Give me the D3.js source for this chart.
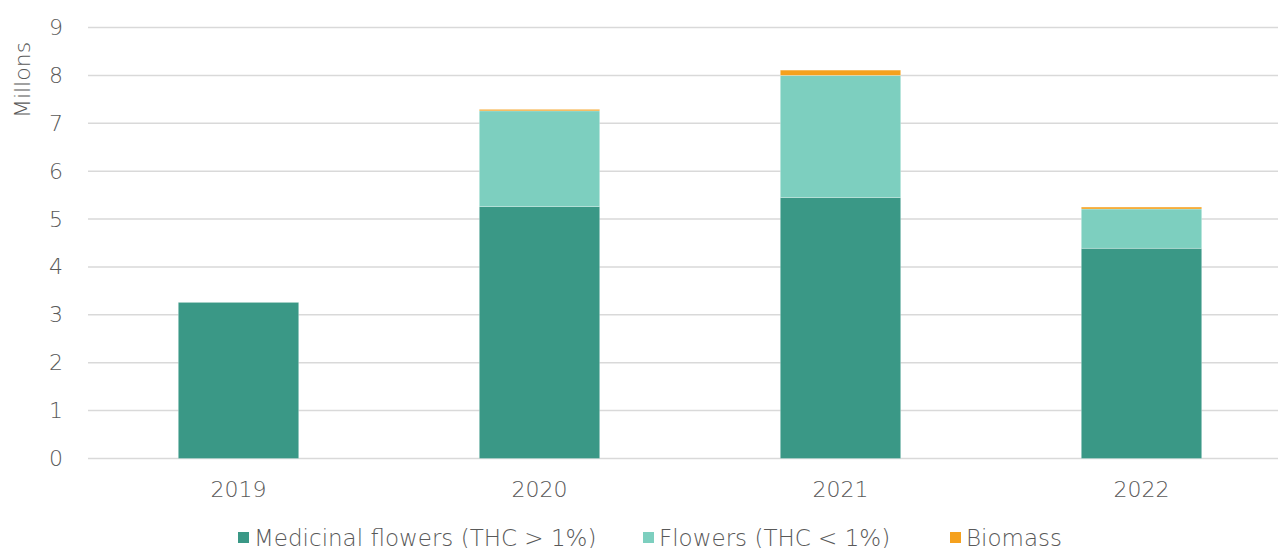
<!DOCTYPE html>
<html>
<head>
<meta charset="utf-8">
<script src="https://cdn.jsdelivr.net/npm/d3@7"></script>
<style>
  html, body { margin: 0; padding: 0; background: #fff; }
  svg { display: block; }
  text { font-family: "DejaVu Sans", "Noto Sans", sans-serif; font-weight: 200; fill: #595959; }
</style>
</head>
<body>
<svg id="chart" width="1278" height="548"></svg>
<script>
// Yearly volumes, in millions
const years = ["2019", "2020", "2021", "2022"];
const medicinal = [3.26, 5.26, 5.45, 4.39];
const flowers = [0, 2.00, 2.55, 0.82];
const biomass = [0, 0.03, 0.11, 0.04];
const seriesNames = ["Medicinal flowers (THC > 1%)", "Flowers (THC < 1%)", "Biomass"];
const seriesColors = ["#3a9886", "#7dcfbf", "#f5a11e"];
const yTicks = [0, 1, 2, 3, 4, 5, 6, 7, 8, 9];

const svg = d3.select("#chart");
const W = 1278;
const FS = 22;

const x = d3.scaleBand().domain(years).range([88, 1292]).paddingInner(0.6).paddingOuter(0.3);
const y = d3.scaleLinear().domain([0, 9]).range([458.5, 27.5]);

// Gridlines
svg.append("g").selectAll("line").data(yTicks).join("line")
  .attr("x1", 88).attr("x2", W)
  .attr("y1", d => y(d)).attr("y2", d => y(d))
  .attr("stroke", "#d9d9d9").attr("stroke-width", 1.5);

// Y axis labels
const yAxis = d3.axisLeft(y).tickValues(yTicks).tickSize(0).tickPadding(0).tickFormat(d3.format("d"));
const gy = svg.append("g").attr("transform", "translate(63,0)").call(yAxis);
gy.select(".domain").remove();
gy.selectAll("text").attr("font-size", FS).attr("fill", "#595959")
  .style("font-family", "'DejaVu Sans', sans-serif");

svg.append("text")
  .attr("transform", "translate(30,80) rotate(-90)")
  .attr("text-anchor", "middle")
  .attr("font-size", FS)
  .text("Millons");

// Stacked bars
const rows = years.map((yr, i) => ({ year: yr, s0: medicinal[i], s1: flowers[i], s2: biomass[i] }));
const stack = d3.stack().keys(["s0", "s1", "s2"]);
const layers = stack(rows);

svg.append("g").selectAll("g").data(layers).join("g")
  .attr("fill", (d, i) => seriesColors[i])
  .selectAll("rect").data(d => d.filter(p => p[1] - p[0] > 0)).join("rect")
  .attr("x", d => x(d.data.year))
  .attr("width", x.bandwidth())
  .attr("y", d => y(d[1]))
  .attr("height", d => y(d[0]) - y(d[1]))
  .attr("stroke", "#ffffff").attr("stroke-opacity", 0.35).attr("stroke-width", 0.75);

// X axis labels
const xAxis = d3.axisBottom(x).tickSize(0).tickPadding(0);
const gx = svg.append("g").attr("transform", "translate(0,497)").call(xAxis);
gx.select(".domain").remove();
gx.selectAll("text").attr("font-size", FS).attr("fill", "#595959").attr("dy", 0)
  .style("font-family", "'DejaVu Sans', sans-serif");

// Legend
const legendX = [238, 643, 950];
const lg = svg.append("g").selectAll("g").data(seriesNames).join("g")
  .attr("transform", (d, i) => `translate(${legendX[i]},532)`);
lg.append("rect").attr("x", 0).attr("y", 0).attr("width", 11).attr("height", 11)
  .attr("fill", (d, i) => seriesColors[i]);
lg.append("text").attr("x", 16).attr("y", 13.5).attr("font-size", 23)
  .style("font-family", "'DejaVu Sans', sans-serif")
  .text(d => d);
</script>
</body>
</html>
